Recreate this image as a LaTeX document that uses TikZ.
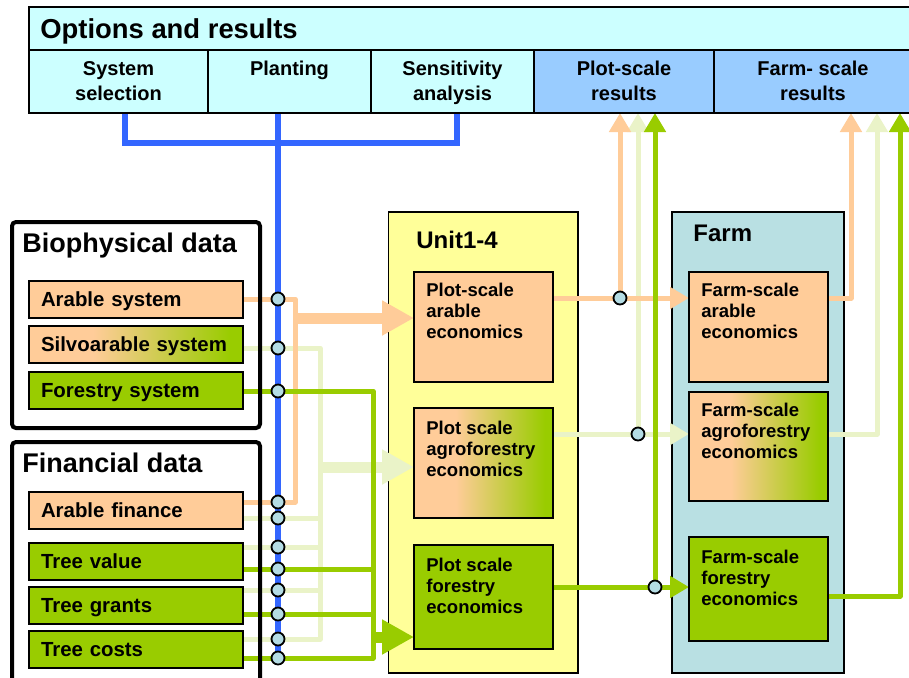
\documentclass[tikz,border=0pt]{standalone}
\usepackage{fontspec}
\setmainfont{Liberation Sans}
\usetikzlibrary{arrows.meta, positioning, calc}
\definecolor{optcyan}{HTML}{CCFFFF}
\definecolor{resblue}{HTML}{99CCFF}
\definecolor{busblue}{HTML}{3366FF}
\definecolor{arorange}{HTML}{FFCC99}
\definecolor{forgreen}{HTML}{99CC00}
\definecolor{agpale}{HTML}{EAF3C8}
\definecolor{unityellow}{HTML}{FFFF99}
\definecolor{farmblue}{HTML}{B9E0E3}
\definecolor{jointblue}{HTML}{B4DCE4}
\pgfdeclarehorizontalshading{agroshade}{100bp}{color(0bp)=(arorange); color(40bp)=(arorange); color(72bp)=(forgreen); color(100bp)=(forgreen)}
\pgfdeclarelayer{bg}
\pgfdeclarelayer{lines}
\pgfsetlayers{bg,lines,main}

\begin{document}
\begin{tikzpicture}[x=0.5pt, y=-0.5pt,
    optbar/.style={draw, line width=0.8pt, fill=optcyan, anchor=north west, inner sep=0pt, outer sep=0pt, minimum width=441.5pt, minimum height=21.5pt},
    optcell/.style={draw, line width=0.8pt, fill=optcyan, anchor=north west, inner sep=0pt, outer sep=0pt, minimum height=31.5pt},
    rescell/.style={optcell, fill=resblue},
    celltext/.style={anchor=north, inner sep=0pt, align=center, font=\fontsize{10}{12.5}\selectfont\bfseries},
    bigtitle/.style={anchor=base west, inner sep=0pt, font=\fontsize{13.7}{16}\selectfont\bfseries},
    datatitle/.style={anchor=base west, inner sep=0pt, font=\fontsize{13.5}{16}\selectfont\bfseries},
    boxtitle/.style={anchor=base west, inner sep=0pt, font=\fontsize{12}{14}\selectfont\bfseries},
    databox/.style={draw, line width=2pt, rounded corners=2pt, anchor=north west, inner sep=0pt, outer sep=0pt, minimum width=124pt},
    itembox/.style={draw, line width=0.8pt, anchor=north west, outer sep=0pt, inner xsep=6pt, text width=95pt, minimum height=18.5pt, text height=8pt, text depth=1.5pt, align=left, font=\fontsize{10.2}{12}\selectfont\bfseries},
    scalebox/.style={draw, line width=0.8pt, anchor=north west, inner sep=0pt, outer sep=0pt, minimum height=230.5pt},
    econbox/.style={draw, line width=0.8pt, anchor=north west, inner sep=0pt, outer sep=0pt, minimum width=69.5pt},
    econtext/.style={anchor=north west, inner sep=0pt, align=left, font=\fontsize{9.25}{10.3}\selectfont\bfseries},
    joint/.style={circle, draw, line width=0.9pt, fill=jointblue, inner sep=0pt, minimum size=6.5pt},
    busline/.style={busblue, line width=2.75pt},
    arline/.style={arorange, line width=2.5pt, line join=round},
    agline/.style={agpale, line width=2.5pt, line join=round},
    frline/.style={forgreen, line width=2.5pt, line join=round},
    smallhead/.style={-{Triangle[length=9.5pt, width=10.5pt]}},
    bighead/.style={line width=5.5pt, -{Triangle[length=16pt, width=16.5pt]}}]
    \useasboundingbox (0,0) rectangle (909,677);
    \begin{pgfonlayer}{bg}
        \fill[white] (0,0) rectangle (909,677);
        % Unit and farm containers
        \node[scalebox, fill=unityellow, minimum width=94.75pt] (unit) at (388.5,212) {};
        \node[scalebox, fill=farmblue, minimum width=86pt] (farm) at (672,212) {};
    \end{pgfonlayer}
    % Options and results header
    \node[optbar] (opt) at (29,7) {};
    \node[bigtitle] (optt) at (40,38) {Options and results};
    \node[optcell, minimum width=89.5pt] (sel) at (29,50) {};
    \node[optcell, minimum width=81.5pt] (plant) at (sel.north east) {};
    \node[optcell, minimum width=81.5pt] (sens) at (plant.north east) {};
    \node[rescell, minimum width=90pt] (pres) at (sens.north east) {};
    \node[rescell, minimum width=99pt] (fres) at (pres.north east) {};
    \node[celltext] (selt) at ($(sel.north)+(0,11)$) {System\\selection};
    \node[celltext] (plantt) at ($(plant.north)+(0,11)$) {Planting};
    \node[celltext] (senst) at ($(sens.north)+(0,11)$) {Sensitivity\\analysis};
    \node[celltext] (prest) at ($(pres.north)+(0,11)$) {Plot-scale\\results};
    \node[celltext] (frest) at ($(fres.north)+(0,11)$) {Farm- scale\\results};
    % Input data
    \node[databox, minimum height=103pt] (bio) at (12,222) {};
    \node[databox, minimum height=124pt] (fin) at (12,442) {};
    \node[datatitle] (biot) at (22,252) {Biophysical data};
    \node[datatitle] (fint) at (22,472) {Financial data};
    \node[itembox, fill=arorange] (arsys) at (29,281) {Arable system};
    \node[itembox, shade, shading=agroshade] (silvo) at (29,326) {Silvoarable system};
    \node[itembox, fill=forgreen] (forsys) at (29,372) {Forestry system};
    \node[itembox, fill=arorange] (arfin) at (29,492) {Arable finance};
    \node[itembox, fill=forgreen] (treeval) at (29,543) {Tree value};
    \node[itembox, fill=forgreen] (treegr) at (29,587) {Tree grants};
    \node[itembox, fill=forgreen] (treecost) at (29,631) {Tree costs};
    % Plot-scale models
    \node[boxtitle] (unitt) at (416,248) {Unit1-4};
    \node[econbox, fill=arorange, minimum height=55pt] (pa) at (414,272) {};
    \node[econbox, shade, shading=agroshade, minimum height=55pt] (pg) at (414,408) {};
    \node[econbox, fill=forgreen, minimum height=52pt] (pf) at (414,545) {};
    \node[econtext] (pat) at ($(pa.north west)+(12,11)$) {Plot-scale\\arable\\economics};
    \node[econtext] (pgt) at ($(pg.north west)+(12,13)$) {Plot scale\\agroforestry\\economics};
    \node[econtext] (pft) at ($(pf.north west)+(12,13)$) {Plot scale\\forestry\\economics};
    % Farm-scale models
    \node[boxtitle] (farmt) at (693,241) {Farm};
    \node[econbox, fill=arorange, minimum height=55pt] (fa) at (689,272) {};
    \node[econbox, shade, shading=agroshade, minimum height=54.5pt] (fg) at (689,392) {};
    \node[econbox, fill=forgreen, minimum height=52pt] (ff) at (689,537) {};
    \node[econtext] (fat) at ($(fa.north west)+(12,11)$) {Farm-scale\\arable\\economics};
    \node[econtext] (fgt) at ($(fg.north west)+(12,11)$) {Farm-scale\\agroforestry\\economics};
    \node[econtext] (fft) at ($(ff.north west)+(12,13)$) {Farm-scale\\forestry\\economics};
    % Joints
    \foreach \jn/\jy in {jas/299, jsv/348, jfs/391, jaf1/502, jaf2/518, jtv1/547, jtv2/569, jtg1/590, jtg2/614, jtc1/639, jtc2/658}
        \node[joint] (\jn) at (278,\jy) {};
    \node[joint] (jpa) at (620,298) {};
    \node[joint] (jpg) at (638,434) {};
    \node[joint] (jpf) at (655,587) {};
    \coordinate (bsel) at (125,113);
    \coordinate (bsens) at (457,113);
    \coordinate (bplant) at (278,113);
    \coordinate (fres1) at (851,113);
    \coordinate (fres2) at (877,113);
    \coordinate (fres3) at (900,113);
    \begin{pgfonlayer}{lines}
        % Options bus
        \draw[busline] (bsel) -- ++(0,30) -| (bsens);
        \draw[busline] (bplant) -- (jtc2);
        % Agroforestry links
        \draw[agline] (silvo.east |- jsv) -- (jsv) -- ++(42,0) coordinate (pcol) |- (jtc1) -- (treecost.east |- jtc1);
        \foreach \jn/\bx in {jaf2/arfin, jtv1/treeval, jtg1/treegr}
            \draw[agline] (\bx.east |- \jn) -- (\jn) -- (\jn -| pcol);
        \coordinate (pbig) at (320,467);
        \draw[agline, bighead] (pbig) -- (pbig -| pg.west);
        \draw[agline, smallhead] (pg.east |- jpg) -- (jpg) -- (fg.west |- jpg);
        \draw[agline, smallhead] (jpg) -- (jpg |- pres.south);
        \draw[agline, smallhead] (fg.east |- jpg) -| (fres2);
        % Arable links
        \draw[arline] (arsys.east |- jas) -- (jas) -- ++(17,0) coordinate (ocol) |- (jaf1) -- (arfin.east |- jaf1);
        \coordinate (obig) at ($(ocol)+(0,19)$);
        \draw[arline, bighead] (obig) -- (obig -| pa.west);
        \draw[arline, smallhead] (pa.east |- jpa) -- (jpa) -- (fa.west |- jpa);
        \draw[arline, smallhead] (jpa) -- (jpa |- pres.south);
        \draw[arline, smallhead] (fa.east |- jpa) -| (fres1);
        % Forestry links
        \draw[frline] (forsys.east |- jfs) -- (jfs) -- ++(95,0) coordinate (gcol) |- (jtc2) -- (treecost.east |- jtc2);
        \foreach \jn/\bx in {jtv2/treeval, jtg2/treegr}
            \draw[frline] (\bx.east |- \jn) -- (\jn) -- (\jn -| gcol);
        \coordinate (gbig) at (373,637);
        \draw[frline, bighead] (gbig) -- (gbig -| pf.west);
        \draw[frline, smallhead] (pf.east |- jpf) -- (jpf) -- (ff.west |- jpf);
        \draw[frline, smallhead] (jpf) -- (jpf |- pres.south);
        \draw[frline, smallhead] ($(ff.east)+(0,7)$) -| (fres3);
    \end{pgfonlayer}
\end{tikzpicture}
\end{document}
